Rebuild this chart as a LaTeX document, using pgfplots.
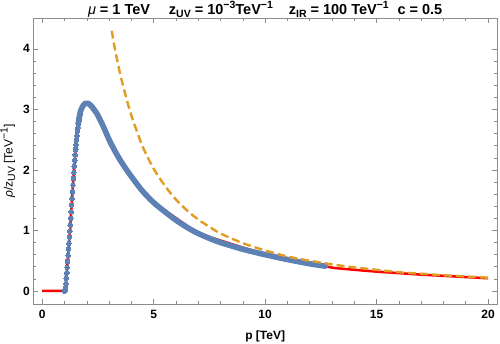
\documentclass[border=0pt]{standalone}
\usepackage{fontspec}
\setmainfont{Liberation Sans}
\usepackage{pgfplots}
\pgfplotsset{compat=1.18}
\definecolor{mblue}{rgb}{0.368,0.507,0.71}
\definecolor{morange}{rgb}{0.881,0.611,0.142}
\definecolor{mred}{rgb}{1,0,0}
\newcommand\sups[1]{\raisebox{0.42em}{\fontsize{10.5}{11}\selectfont #1}}
\newcommand\subs[1]{\raisebox{-0.22em}{\fontsize{10.5}{11}\selectfont #1}}
\begin{document}
\begin{tikzpicture}
\begin{axis}[
  scale only axis,
  width=463.7pt, height=286pt,
  xmin=-0.4, xmax=20.4, ymin=-0.215, ymax=4.51,
  xtick={0,5,10,15,20}, ytick={0,1,2,3,4},
  xticklabels={0,5,10,15,20}, yticklabels={0,1,2,3,4},
  minor x tick num=4, minor y tick num=4,
  tick align=inside, tick pos=both,
  major tick length=5pt, minor tick length=3pt,
  axis line style={black!45, line width=0.7pt},
  every tick/.style={black!45, line width=0.6pt},
  tick label style={font=\fontsize{12}{14}\selectfont\bfseries},
  xticklabel style={yshift=-3pt},
  clip=true,
]
% red analytic curve
\addplot[mred, line width=2.5pt, line join=round] coordinates {
(0,0) (1.00,0.00) (1.02,0.01) (1.04,0.05) (1.06,0.12) (1.08,0.21) (1.10,0.30)
(1.12,0.39) (1.14,0.49) (1.16,0.59) (1.18,0.69) (1.20,0.79) (1.22,0.89)
(1.24,0.99) (1.26,1.09) (1.28,1.20) (1.30,1.31) (1.32,1.42) (1.34,1.53)
(1.36,1.64) (1.38,1.75) (1.40,1.86) (1.42,1.96) (1.44,2.06) (1.46,2.16)
(1.48,2.25) (1.50,2.34) (1.52,2.42) (1.54,2.50) (1.56,2.57) (1.58,2.64)
(1.60,2.70) (1.62,2.76) (1.64,2.81) (1.66,2.86) (1.68,2.90) (1.70,2.94)
(1.80,3.04) (2.00,3.10) (2.50,2.90) (3.00,2.50) (4.00,1.89) (5.00,1.46)
(7.00,0.95) (10.0,0.60) (12.0,0.45)
};
\addplot[mred, line width=2.5pt, smooth] coordinates {
(12.0,0.45) (12.7,0.41) (13,0.385) (14,0.35) (15,0.32) (16,0.295) (17,0.27) (18,0.25) (19,0.23) (20,0.21)
};
% blue sampled points: rising part
\addplot[mblue, only marks, mark=*, mark size=2.35pt, mark options={draw=mblue, fill=mblue, line width=0pt}] coordinates {
(1.00,0.00) (1.02,0.01) (1.04,0.05) (1.06,0.12) (1.08,0.21) (1.10,0.30)
(1.12,0.39) (1.14,0.49) (1.16,0.59) (1.18,0.69) (1.20,0.79) (1.22,0.89)
(1.24,0.99) (1.26,1.09) (1.28,1.20) (1.30,1.31) (1.32,1.42) (1.34,1.53)
(1.36,1.64) (1.38,1.75) (1.40,1.86) (1.42,1.96) (1.44,2.06) (1.46,2.16)
(1.48,2.25) (1.50,2.34) (1.52,2.42) (1.54,2.50) (1.56,2.57) (1.58,2.64)
(1.60,2.70) (1.62,2.76) (1.64,2.81) (1.66,2.86) (1.68,2.90) (1.70,2.94)
};
% blue sampled points: dense part (merged into a band)
\addplot[mblue, line width=5.6pt, smooth, line cap=round, line join=round] coordinates {
(1.62,2.76) (1.66,2.86) (1.70,2.94) (1.75,3.00) (1.80,3.04) (1.85,3.07)
(1.90,3.09) (1.95,3.10) (2.00,3.10) (2.05,3.10) (2.10,3.09) (2.20,3.06)
(2.30,3.01) (2.40,2.96) (2.50,2.90) (2.75,2.71) (3.00,2.50) (3.25,2.32)
(3.50,2.16) (3.75,2.02) (4.00,1.89) (4.50,1.65) (5.00,1.46) (5.50,1.31)
(6.00,1.17) (6.50,1.05) (7.00,0.95) (7.50,0.87) (8.00,0.80) (9.00,0.69)
(10.0,0.60) (11.0,0.52) (12.0,0.45) (12.7,0.41)
};
% orange dashed asymptotic curve
\addplot[morange, line width=2.4pt, dash pattern=on 8pt off 4pt, smooth] coordinates {
(3.12,4.30) (3.25,4.02) (3.50,3.58) (3.75,3.22) (4.00,2.90) (4.50,2.39)
(5.00,2.02) (5.50,1.74) (6.00,1.51) (6.50,1.33) (7.00,1.18) (7.50,1.06)
(8.00,0.95) (9.00,0.79) (10.0,0.67) (11.0,0.57) (12.0,0.50) (13.0,0.44)
(14.0,0.39) (15.0,0.35) (16.0,0.31) (17.0,0.285) (18.0,0.26) (19.0,0.24) (20.0,0.22)
};
\end{axis}
\node[anchor=base, font=\fontsize{14.5}{16}\selectfont\bfseries] at ([yshift=3.5pt]current axis.north)
  {{\mdseries\itshape μ} = 1 TeV\hspace{1.3em}z\subs{UV} = 10\sups{−3}TeV\sups{−1}\hspace{1.1em}z\subs{IR} = 100 TeV\sups{−1}\hspace{0.6em}c = 0.5};
\node[anchor=base, font=\fontsize{12}{14}\selectfont\bfseries] at ([yshift=-35.8pt]current axis.south) {p [TeV]};
\node[rotate=90, anchor=center, font=\fontsize{12}{14}\selectfont] at ([xshift=-25.5pt]current axis.west)
  {{\itshape ρ}/z\subs{UV} [TeV\sups{−1}]};
\pgfresetboundingbox
\path ([shift={(-33.3pt,-39pt)}]current axis.south west) rectangle ([shift={(3pt,18pt)}]current axis.north east);
\end{tikzpicture}
\end{document}
